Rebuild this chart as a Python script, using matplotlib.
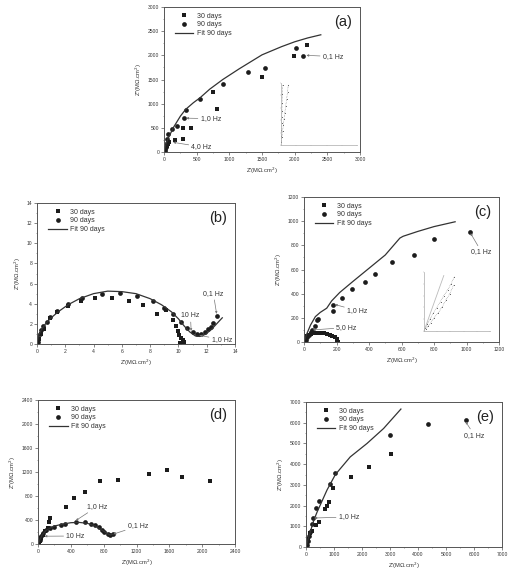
import matplotlib
matplotlib.use("Agg")
import matplotlib.pyplot as plt
import numpy as np

plt.rcParams['font.family'] = ['Liberation Sans', 'DejaVu Sans']

# ---------------- data ----------------
# (a)
a30_x = [40, 80, 163, 296, 418, 296, 745, 816, 1500, 1995, 2194, 20, 60]
a30_y = [120, 200, 243, 270, 506, 499, 1240, 887, 1552, 1982, 2204, 60, 160]
a90_x = [10, 20, 30, 40, 50, 60, 128, 204, 301, 332, 551, 898, 1286, 1546, 2020, 2133]
a90_y = [20, 60, 100, 180, 260, 370, 485, 545, 700, 873, 1088, 1414, 1649, 1746, 2148, 1996]
afit_x = [0, 30, 80, 150, 250, 330, 450, 550, 700, 900, 1150, 1500, 1800, 2000, 2200, 2400]
afit_y = [0, 170, 330, 520, 740, 880, 1020, 1120, 1300, 1500, 1720, 2010, 2180, 2280, 2360, 2425]
ains1_x = [0.02, 0.04, 0.06, 0.08, 0.1, 0.12, 0.14, 0.17, 0.2]
ains1_y = [0.5, 1.5, 2.5, 3.5, 4.5, 5.5, 6.8, 8.2, 9.7]
ains2_x = [0.05, 0.12, 0.2, 0.3, 0.4, 0.5, 0.62, 0.75, 0.86, 0.96]
ains2_y = [0.5, 1.3, 2.2, 3.2, 4.2, 5.2, 6.3, 7.5, 8.6, 9.7]

# (b)
b30_x = [0.05, 0.15, 0.3, 0.5, 0.9, 1.4, 2.2, 3.1, 4.1, 5.3, 6.5, 7.5, 8.5, 9.15, 9.6, 9.85, 9.95, 10.05, 10.15, 10.3, 10.4, 10.1]
b30_y = [0.1, 0.5, 1.0, 1.5, 2.6, 3.2, 3.8, 4.3, 4.6, 4.6, 4.3, 3.9, 2.95, 3.4, 2.35, 1.8, 1.3, 0.9, 0.6, 0.35, 0.2, 0.1]
b90_x = [0.05, 0.1, 0.2, 0.3, 0.45, 0.7, 0.95, 1.4, 2.2, 3.2, 4.6, 5.9, 7.1, 8.2, 9.0, 9.6, 10.2, 10.6, 11.0, 11.3, 11.6, 11.9, 12.1, 12.3, 12.47, 12.7]
b90_y = [0.2, 0.6, 1.0, 1.4, 1.75, 2.2, 2.7, 3.3, 4.0, 4.6, 5.0, 5.05, 4.8, 4.3, 3.6, 3.0, 2.2, 1.6, 1.2, 0.95, 0.95, 1.2, 1.5, 1.7, 2.05, 2.8]
bfit_x = [0, 0.1, 0.3, 0.6, 1.0, 1.5, 2.2, 3.0, 4.0, 5.0, 6.0, 7.0, 8.0, 8.8, 9.5, 10.0, 10.4, 10.8, 11.2, 11.5, 11.9, 12.3, 12.7, 13.1]
bfit_y = [0, 0.8, 1.4, 2.0, 2.6, 3.2, 3.9, 4.5, 5.0, 5.25, 5.2, 5.0, 4.5, 3.9, 3.2, 2.5, 1.8, 1.2, 0.8, 0.75, 0.95, 1.4, 2.0, 2.6]

# (c)
c30_x = [0, 10, 20, 30, 40, 55, 80, 100, 120, 140, 160, 175, 190, 200, 205, 210]
c30_y = [0, 30, 50, 60, 70, 75, 75, 75, 72, 68, 60, 50, 40, 25, 10, 3]
c90_x = [5, 10, 20, 30, 40, 50, 68, 80, 86, 178, 180, 234, 293, 375, 439, 544, 679, 800, 1019]
c90_y = [10, 20, 40, 60, 80, 100, 136, 180, 194, 255, 307, 368, 438, 499, 562, 662, 720, 853, 909]
cfit_x = [0, 15, 40, 70, 100, 140, 170, 220, 300, 400, 500, 590, 610, 700, 800, 930]
cfit_y = [0, 60, 140, 210, 245, 280, 340, 410, 500, 610, 720, 860, 875, 915, 955, 995]
cins1_x = [0.2, 0.5, 0.9, 1.4, 1.9, 2.5, 3.0, 3.6, 4.1, 4.6]
cins1_y = [0.5, 1.2, 2.0, 3.0, 3.9, 5.0, 6.0, 7.0, 8.0, 9.2]
cins2_x = [0.3, 0.6, 1.0, 1.5, 2.1, 2.7, 3.3, 3.9, 4.5]
cins2_y = [0.3, 0.8, 1.4, 2.2, 3.0, 4.0, 5.2, 6.3, 7.8]
cinsfit_x = [0, 3.0]
cinsfit_y = [0, 9.4]

# (d)
d30_x = [10, 20, 40, 60, 90, 120, 135, 150, 346, 439, 578, 757, 980, 1347, 1566, 1758, 2095]
d30_y = [20, 50, 100, 150, 220, 270, 370, 428, 622, 767, 867, 1056, 1061, 1161, 1228, 1111, 1044]
d90_x = [0, 20, 40, 60, 100, 150, 200, 280, 330, 460, 570, 640, 700, 740, 780, 810, 850, 880, 910]
d90_y = [0, 60, 130, 180, 230, 260, 290, 320, 330, 365, 360, 340, 310, 280, 240, 200, 160, 150, 160]
dfit_x = [0, 50, 100, 200, 300, 400, 500, 600, 700, 780, 850, 880, 920]
dfit_y = [0, 150, 230, 300, 330, 355, 360, 345, 300, 230, 170, 150, 165]

# (e)
e30_x = [40, 80, 150, 200, 340, 460, 670, 760, 810, 970, 1600, 2250, 3050]
e30_y = [180, 400, 700, 750, 1040, 1200, 1820, 1990, 2180, 2830, 3400, 3870, 4480]
e90_x = [20, 60, 100, 130, 200, 250, 350, 450, 870, 1050, 3000, 4370, 5700]
e90_y = [100, 300, 530, 730, 1100, 1390, 1900, 2200, 3060, 3560, 5420, 5930, 6150]
efit_x = [0, 80, 180, 280, 400, 550, 750, 1050, 1580, 2180, 2770, 3390]
efit_y = [0, 400, 850, 1300, 1700, 2150, 2750, 3500, 4350, 5000, 5720, 6660]

# ---------------- style ----------------
DARK = '#1c1c1c'
AX = '#555555'
TXT = '#333333'
LBL = "Z'(M\u03a9.cm$^2$)"
YLBL = "Z''(M\u03a9.cm$^2$)"

fig = plt.figure(figsize=(5.09, 5.77), dpi=100)
fig.patch.set_facecolor('white')


def make_ax(rect, lim, step, letter, s30, s90, fit, annots):
    ax = fig.add_axes(rect)
    ax.plot(s30[0], s30[1], 's', color=DARK, ms=3.0, mew=0, linestyle='none', label='30 days')
    ax.plot(s90[0], s90[1], 'o', color=DARK, ms=3.4, mew=0, linestyle='none', label='90 days')
    ax.plot(fit[0], fit[1], '-', color='#333333', lw=0.9, label='Fit 90 days')
    ax.set_xlim(0, lim)
    ax.set_ylim(0, lim)
    ticks = np.arange(0, lim + step / 2, step)
    ax.set_xticks(ticks)
    ax.set_yticks(ticks)
    labs = [f"{t:g}" for t in ticks]
    ax.set_xticklabels(labs)
    ax.set_yticklabels(labs)
    ax.xaxis.set_minor_locator(matplotlib.ticker.MultipleLocator(step / 2))
    ax.yaxis.set_minor_locator(matplotlib.ticker.MultipleLocator(step / 2))
    ax.tick_params(which='major', direction='out', length=2, width=0.5, colors=AX,
                   labelsize=3.6, labelcolor=TXT, pad=1.5)
    ax.tick_params(which='minor', direction='out', length=1, width=0.4, colors=AX)
    for s in ax.spines.values():
        s.set_color(AX)
        s.set_linewidth(0.7)
    ax.set_xlabel(LBL, fontsize=4.2, color=TXT, labelpad=2.5)
    ax.set_ylabel(YLBL, fontsize=4.2, color=TXT, labelpad=2.5)
    ax.text(0.96, 0.895, letter, transform=ax.transAxes, ha='right', va='center',
            fontsize=10.5, color='#222222')
    ax.legend(loc='upper left', bbox_to_anchor=(0.03, 1.0), frameon=False, fontsize=5,
              handlelength=2.6, handletextpad=0.5, labelspacing=0.25, borderpad=0.3,
              labelcolor=TXT)
    for txt, xy, xytext in annots:
        ax.annotate(txt, xy=xy, xytext=xytext, fontsize=5, color=TXT, va='center',
                    arrowprops=dict(arrowstyle='-|>', color='#777777', lw=0.5,
                                    mutation_scale=3, shrinkA=0, shrinkB=0))
    return ax


def make_inset(rect, series, fit=None):
    ins = fig.add_axes(rect)
    ins.patch.set_alpha(0)
    for sx, sy in series:
        ins.plot(sx, sy, '.', color='#444444', ms=1.2, mew=0)
        ins.plot(sx, sy, ':', color='#666666', lw=0.4)
    if fit is not None:
        ins.plot(fit[0], fit[1], '-', color='#bbbbbb', lw=0.6)
    ins.set_xlim(0, 10)
    ins.set_ylim(0, 10)
    ins.set_xticks(np.arange(0, 11, 2))
    ins.set_yticks(np.arange(0, 11, 2))
    ins.set_xticklabels([])
    ins.set_yticklabels([])
    ins.tick_params(length=1, width=0.3, colors='#aaaaaa')
    ins.spines['top'].set_visible(False)
    ins.spines['right'].set_visible(False)
    for s in ('left', 'bottom'):
        ins.spines[s].set_color('#aaaaaa')
        ins.spines[s].set_linewidth(0.5)
    return ins


W, H = 509.0, 577.0


def rect(l, t, r, b):
    return [l / W, 1 - b / H, (r - l) / W, (b - t) / H]


make_ax(rect(164, 7, 360, 152), 3000, 500, '(a)',
        (a30_x, a30_y), (a90_x, a90_y), (afit_x, afit_y),
        [('0,1 Hz', (2180, 2000), (2430, 1975)),
         ('1,0 Hz', (340, 700), (560, 690)),
         ('4,0 Hz', (140, 200), (420, 105))])
make_inset(rect(281, 83, 357, 145), [(ains1_x, ains1_y), (ains2_x, ains2_y)])

make_ax(rect(37, 203, 235, 344), 14, 2, '(b)',
        (b30_x, b30_y), (b90_x, b90_y), (bfit_x, bfit_y),
        [('0,1 Hz', (12.7, 3.0), (11.75, 5.0)),
         ('10 Hz', (10.9, 1.3), (10.2, 2.8)),
         ('1,0 Hz', (11.5, 0.85), (12.35, 0.45))])

make_ax(rect(304, 197, 499, 342), 1200, 200, '(c)',
        (c30_x, c30_y), (c90_x, c90_y), (cfit_x, cfit_y),
        [('0,1 Hz', (1025, 900), (1030, 745)),
         ('1,0 Hz', (190, 310), (265, 260)),
         ('5,0 Hz', (55, 100), (200, 120))])
make_inset(rect(424, 272, 490, 331), [(cins1_x, cins1_y), (cins2_x, cins2_y)],
           (cinsfit_x, cinsfit_y))

make_ax(rect(38, 400, 235, 544), 2400, 400, '(d)',
        (d30_x, d30_y), (d90_x, d90_y), (dfit_x, dfit_y),
        [('1,0 Hz', (460, 390), (598, 625)),
         ('0,1 Hz', (920, 165), (1095, 300)),
         ('10 Hz', (80, 130), (345, 133))])

make_ax(rect(306, 402, 502, 547), 7000, 1000, '(e)',
        (e30_x, e30_y), (e90_x, e90_y), (efit_x, efit_y),
        [('0,1 Hz', (5700, 6050), (5650, 5400)),
         ('1,0 Hz', (300, 1400), (1170, 1450))])

fig.savefig('out.png', dpi=100, facecolor='white')
